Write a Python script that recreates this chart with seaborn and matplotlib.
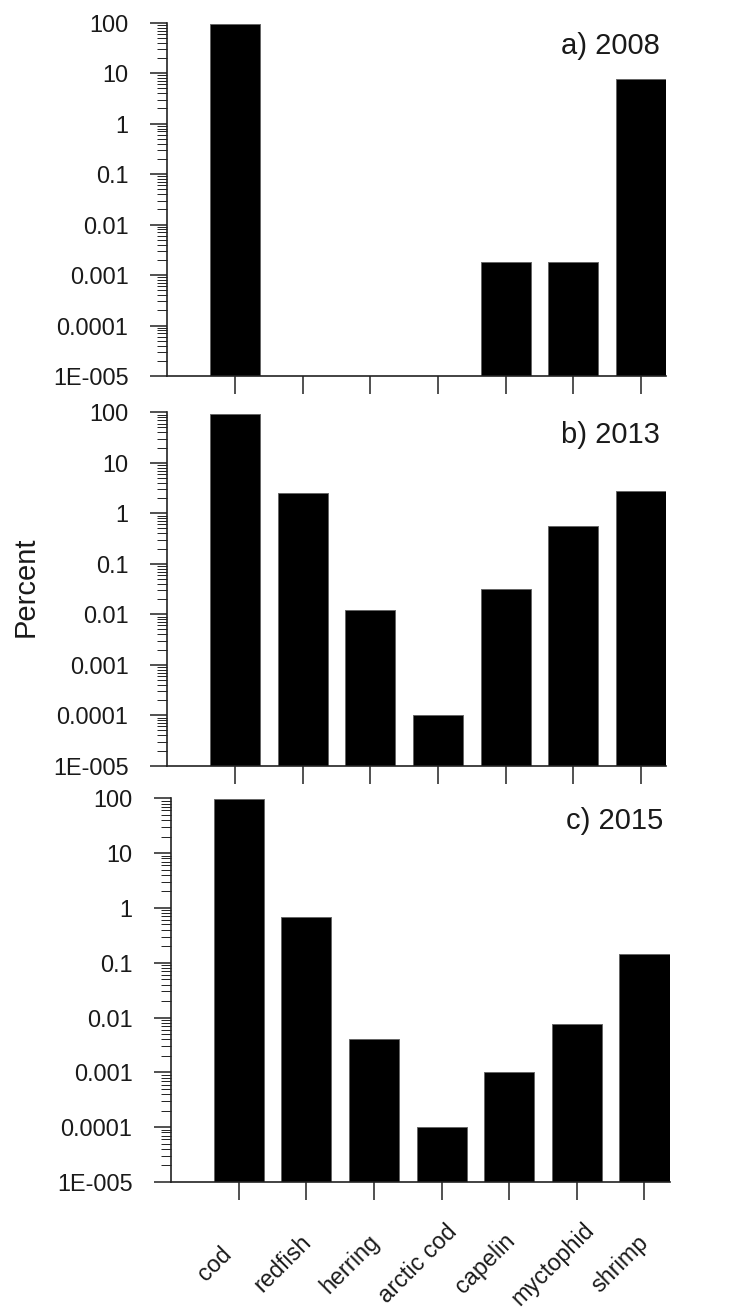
import numpy as np
import pandas as pd
import matplotlib
matplotlib.use("Agg")
import matplotlib.pyplot as plt
import matplotlib.transforms as mtrans
from matplotlib.ticker import LogLocator, NullFormatter
import seaborn as sns

# ---- data ----
species = ["cod", "redfish", "herring", "arctic cod", "capelin", "myctophid", "shrimp"]
pct_2008 = [93, np.nan, np.nan, np.nan, 0.0018, 0.0018, 7.6]
pct_2013 = [92.5, 2.5, 0.012, 0.0001, 0.032, 0.55, 2.7]
pct_2015 = [97, 0.67, 0.0041, 0.0001, 0.001, 0.0075, 0.145]
panel_titles = ["a) 2008", "b) 2013", "c) 2015"]
ytick_values = [1e-5, 1e-4, 1e-3, 1e-2, 1e-1, 1, 10, 100]
ytick_labels = ["1E-005", "0.0001", "0.001", "0.01", "0.1", "1", "10", "100"]
y_label = "Percent"

sns.set_style("white")
plt.rcParams["font.family"] = ["Liberation Sans", "DejaVu Sans"]
TXT = "#1a1a1a"

W, H = 733, 1310
fig = plt.figure(figsize=(W / 100, H / 100), dpi=100)

# axes boxes in pixels: left, top, right, bottom
boxes = [(167, 22.7, 666, 376), (167, 412.3, 666, 765.7), (171, 798.3, 669.5, 1182)]
series = [pct_2008, pct_2013, pct_2015]

for i, (vals, title, (l, t, r, b)) in enumerate(zip(series, panel_titles, boxes)):
    ax = fig.add_axes([l / W, 1 - b / H, (r - l) / W, (b - t) / H])
    ax.set_yscale("log")
    df = pd.DataFrame({"species": species, "pct": vals})
    sns.barplot(data=df, x="species", y="pct", order=species, color="black",
                saturation=1, width=0.74, edgecolor="#666666", linewidth=0.7,
                errorbar=None, ax=ax)
    ax.set_xlim(-1.004, 6.37)
    ax.set_ylim(1e-5, 100)
    ax.set_yticks(ytick_values)
    ax.set_yticklabels(ytick_labels)
    ax.yaxis.set_minor_locator(LogLocator(base=10, subs=np.arange(2, 10), numticks=100))
    ax.yaxis.set_minor_formatter(NullFormatter())
    ax.set_xlabel("")
    ax.set_ylabel("")
    sns.despine(ax=ax)
    for s in ("left", "bottom"):
        ax.spines[s].set_color("#222222")
        ax.spines[s].set_linewidth(1.2)
    ax.tick_params(axis="y", which="major", length=12.3, width=1.1, pad=15.5,
                   labelsize=16.8, labelcolor=TXT, color="#222222", left=True, direction="out")
    ax.tick_params(axis="y", which="minor", length=7, width=0.7, color="#222222",
                   left=True, direction="out")
    ax.tick_params(axis="x", which="major", length=13, width=1.1, color="#222222",
                   bottom=True, direction="out", pad=46, labelsize=16.8, labelcolor=TXT)
    ax.set_xticks(range(len(species)))
    if i < 2:
        ax.set_xticklabels([])
    else:
        ax.set_xticklabels(species, rotation=45, ha="center", va="center",
                           rotation_mode="anchor")
        off = mtrans.ScaledTranslation(-0.24, 0, fig.dpi_scale_trans)
        for lbl in ax.get_xticklabels():
            lbl.set_transform(lbl.get_transform() + off)
    ax.text(1, 1, title, ha="right", va="baseline", fontsize=21, color=TXT,
            transform=ax.transAxes + mtrans.ScaledTranslation(-0.06, -0.31, fig.dpi_scale_trans))

fig.text(26 / W, 1 - 587 / H, y_label, rotation=90, ha="center", va="center",
         fontsize=21, color=TXT)

fig.savefig("out.png", dpi=100)
